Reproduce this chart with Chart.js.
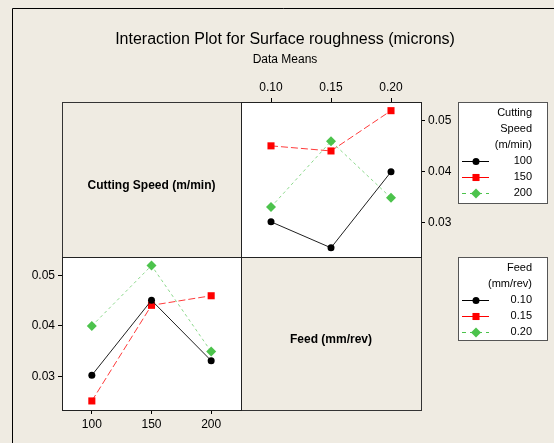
<!DOCTYPE html>
<html>
<head>
<meta charset="utf-8">
<script src="https://cdn.jsdelivr.net/npm/chart.js@4.4.1/dist/chart.umd.min.js"></script>
<style>
  html, body { margin: 0; padding: 0; background: #efebe2; }
  #wrap { position: relative; width: 554px; height: 443px; }
  canvas { position: absolute; left: 0; top: 0; }
</style>
</head>
<body>
<div id="wrap">
  <canvas id="speedChart" width="554" height="443"></canvas>
  <canvas id="feedChart" width="554" height="443"></canvas>
</div>
<script>
const feeds = ['0.10', '0.15', '0.20'];
const speeds = ['100', '150', '200'];
const yTicks = [0.03, 0.04, 0.05];

// mean surface roughness for each cutting speed, one value per feed
const speed100 = [0.0302, 0.0251, 0.0400];
const speed150 = [0.0451, 0.0441, 0.0520];
const speed200 = [0.0331, 0.0460, 0.0349];

const bySpeed = [speed100, speed150, speed200];
// same means seen the other way round: one series per feed
const byFeed = feeds.map((f, j) => bySpeed.map(row => row[j]));

const FONT = '"Liberation Sans", Arial, sans-serif';
const BG = '#efebe2';
const box = { left: 62, mid: 241, right: 421, top: 102, midY: 257, bottom: 410 };

const styles = [
  { line: '#202020', point: '#000000', shape: 'circle', r: 3.5, dash: [], legendDash: [] },
  { line: '#ff3b3b', point: '#ff0000', shape: 'rect', r: 5, dash: [7, 3], legendDash: [] },
  { line: '#8cd98c', point: '#4cc34c', shape: 'rectRot', r: 5, dash: [3, 3], legendDash: [4, 4] }
];

function makeDatasets(series, names) {
  return series.map((values, i) => ({
    label: names[i],
    data: values,
    borderColor: styles[i].line,
    borderWidth: 1,
    borderDash: styles[i].dash,
    pointStyle: styles[i].shape,
    pointRadius: styles[i].r,
    pointHoverRadius: styles[i].r,
    pointBackgroundColor: styles[i].point,
    pointBorderColor: styles[i].point,
    pointBorderWidth: 0,
    tension: 0,
    fill: false
  }));
}

function makeScales(xPos, yPos) {
  const grid = { drawOnChartArea: false, drawTicks: true, tickLength: 4, color: '#000' };
  const font = { family: FONT, size: 12 };
  return {
    x: {
      type: 'category',
      position: xPos,
      offset: true,
      grid: grid,
      border: { display: false },
      ticks: { color: '#000', font: font, padding: 3, maxRotation: 0 },
      afterFit: s => { s.height = 25; }
    },
    y: {
      type: 'linear',
      position: yPos,
      min: 0.0233,
      max: 0.0537,
      grid: grid,
      border: { display: false },
      ticks: { color: '#000', font: font, padding: 3, callback: v => v.toFixed(2) },
      afterBuildTicks: s => { s.ticks = yTicks.map(v => ({ value: v })); },
      afterFit: s => { s.width = 40; }
    }
  };
}

function drawMarker(ctx, st, x, y) {
  ctx.fillStyle = st.point;
  ctx.beginPath();
  if (st.shape === 'circle') {
    ctx.arc(x, y, st.r, 0, Math.PI * 2);
  } else if (st.shape === 'rect') {
    const h = st.r * Math.SQRT1_2;
    ctx.rect(x - h, y - h, 2 * h, 2 * h);
  } else {
    const h = st.r;
    ctx.moveTo(x, y - h);
    ctx.lineTo(x + h, y);
    ctx.lineTo(x, y + h);
    ctx.lineTo(x - h, y);
    ctx.closePath();
  }
  ctx.fill();
}

function drawLegend(ctx, x, y, w, h, titleLines, names) {
  ctx.save();
  ctx.fillStyle = '#fff';
  ctx.fillRect(x, y, w, h);
  ctx.strokeStyle = '#555';
  ctx.lineWidth = 1;
  ctx.strokeRect(x + 0.5, y + 0.5, w, h);
  ctx.font = '11px ' + FONT;
  ctx.textAlign = 'right';
  ctx.textBaseline = 'middle';
  let ty = y + 11;
  titleLines.forEach(t => {
    ctx.fillStyle = '#000';
    ctx.fillText(t, x + 74, ty);
    ty += 16;
  });
  names.forEach((n, i) => {
    const st = styles[i];
    ctx.strokeStyle = st.point;
    ctx.setLineDash(st.legendDash);
    ctx.beginPath();
    ctx.moveTo(x + 4, ty + 0.5);
    ctx.lineTo(x + 31, ty + 0.5);
    ctx.stroke();
    ctx.setLineDash([]);
    drawMarker(ctx, st, x + 18, ty + 0.5);
    ctx.fillStyle = '#000';
    ctx.fillText(n, x + 74, ty);
    ty += 16;
  });
  ctx.restore();
}

function panelLabel(ctx, x, y, w, h, text, ty) {
  ctx.fillStyle = BG;
  ctx.fillRect(x, y, w, h);
  ctx.strokeStyle = '#333';
  ctx.strokeRect(x + 0.5, y + 0.5, w, h);
  ctx.fillStyle = '#000';
  ctx.font = 'bold 12px ' + FONT;
  ctx.textAlign = 'center';
  ctx.textBaseline = 'middle';
  ctx.fillText(text, x + w / 2, ty);
}

const backdrop = {
  id: 'backdrop',
  beforeDraw(chart) {
    const ctx = chart.ctx;
    ctx.save();
    ctx.fillStyle = BG;
    ctx.fillRect(0, 0, chart.width, chart.height);
    // outer frame
    ctx.strokeStyle = '#000';
    ctx.lineWidth = 1;
    ctx.beginPath();
    ctx.moveTo(12.5, chart.height);
    ctx.lineTo(12.5, 8.5);
    ctx.lineTo(chart.width, 8.5);
    ctx.stroke();
    // titles
    ctx.fillStyle = '#000';
    ctx.textAlign = 'center';
    ctx.textBaseline = 'middle';
    ctx.font = '16px ' + FONT;
    ctx.fillText('Interaction Plot for Surface roughness (microns)', 285, 40);
    ctx.font = '12px ' + FONT;
    ctx.fillText('Data Means', 285, 60);
    // label cells of the matrix
    panelLabel(ctx, box.left, box.top, box.mid - box.left, box.midY - box.top, 'Cutting Speed (m/min)', 186);
    panelLabel(ctx, box.mid, box.midY, box.right - box.mid, box.bottom - box.midY, 'Feed (mm/rev)', 340);
    // legends
    drawLegend(ctx, 458, 102, 89, 101, ['Cutting', 'Speed', '(m/min)'], speeds);
    drawLegend(ctx, 458, 257, 89, 83, ['Feed', '(mm/rev)'], feeds);
    ctx.restore();
  }
};

const panel = {
  id: 'panel',
  beforeDraw(chart) {
    const a = chart.chartArea;
    chart.ctx.save();
    chart.ctx.fillStyle = '#fff';
    chart.ctx.fillRect(a.left, a.top, a.right - a.left, a.bottom - a.top);
    chart.ctx.restore();
  },
  afterDraw(chart) {
    const a = chart.chartArea;
    const ctx = chart.ctx;
    ctx.save();
    ctx.strokeStyle = '#222';
    ctx.lineWidth = 1;
    ctx.strokeRect(a.left + 0.5, a.top + 0.5, a.right - a.left, a.bottom - a.top);
    ctx.restore();
  }
};

const common = {
  responsive: false,
  animation: false,
  devicePixelRatio: 1,
  events: [],
  plugins: { legend: { display: false }, title: { display: false }, tooltip: { enabled: false } }
};

const speedChart = new Chart(document.getElementById('speedChart').getContext('2d'), {
  type: 'line',
  data: { labels: feeds, datasets: makeDatasets(bySpeed, speeds) },
  options: Object.assign({}, common, {
    layout: { padding: { left: box.mid, top: box.top - 25, right: 554 - box.right - 40, bottom: 443 - box.midY } },
    scales: makeScales('top', 'right')
  }),
  plugins: [backdrop, panel]
});

const feedChart = new Chart(document.getElementById('feedChart').getContext('2d'), {
  type: 'line',
  data: { labels: speeds, datasets: makeDatasets(byFeed, feeds) },
  options: Object.assign({}, common, {
    layout: { padding: { left: box.left - 40, top: box.midY, right: 554 - box.mid, bottom: 443 - box.bottom - 25 } },
    scales: makeScales('bottom', 'left')
  }),
  plugins: [panel]
});
</script>
</body>
</html>
